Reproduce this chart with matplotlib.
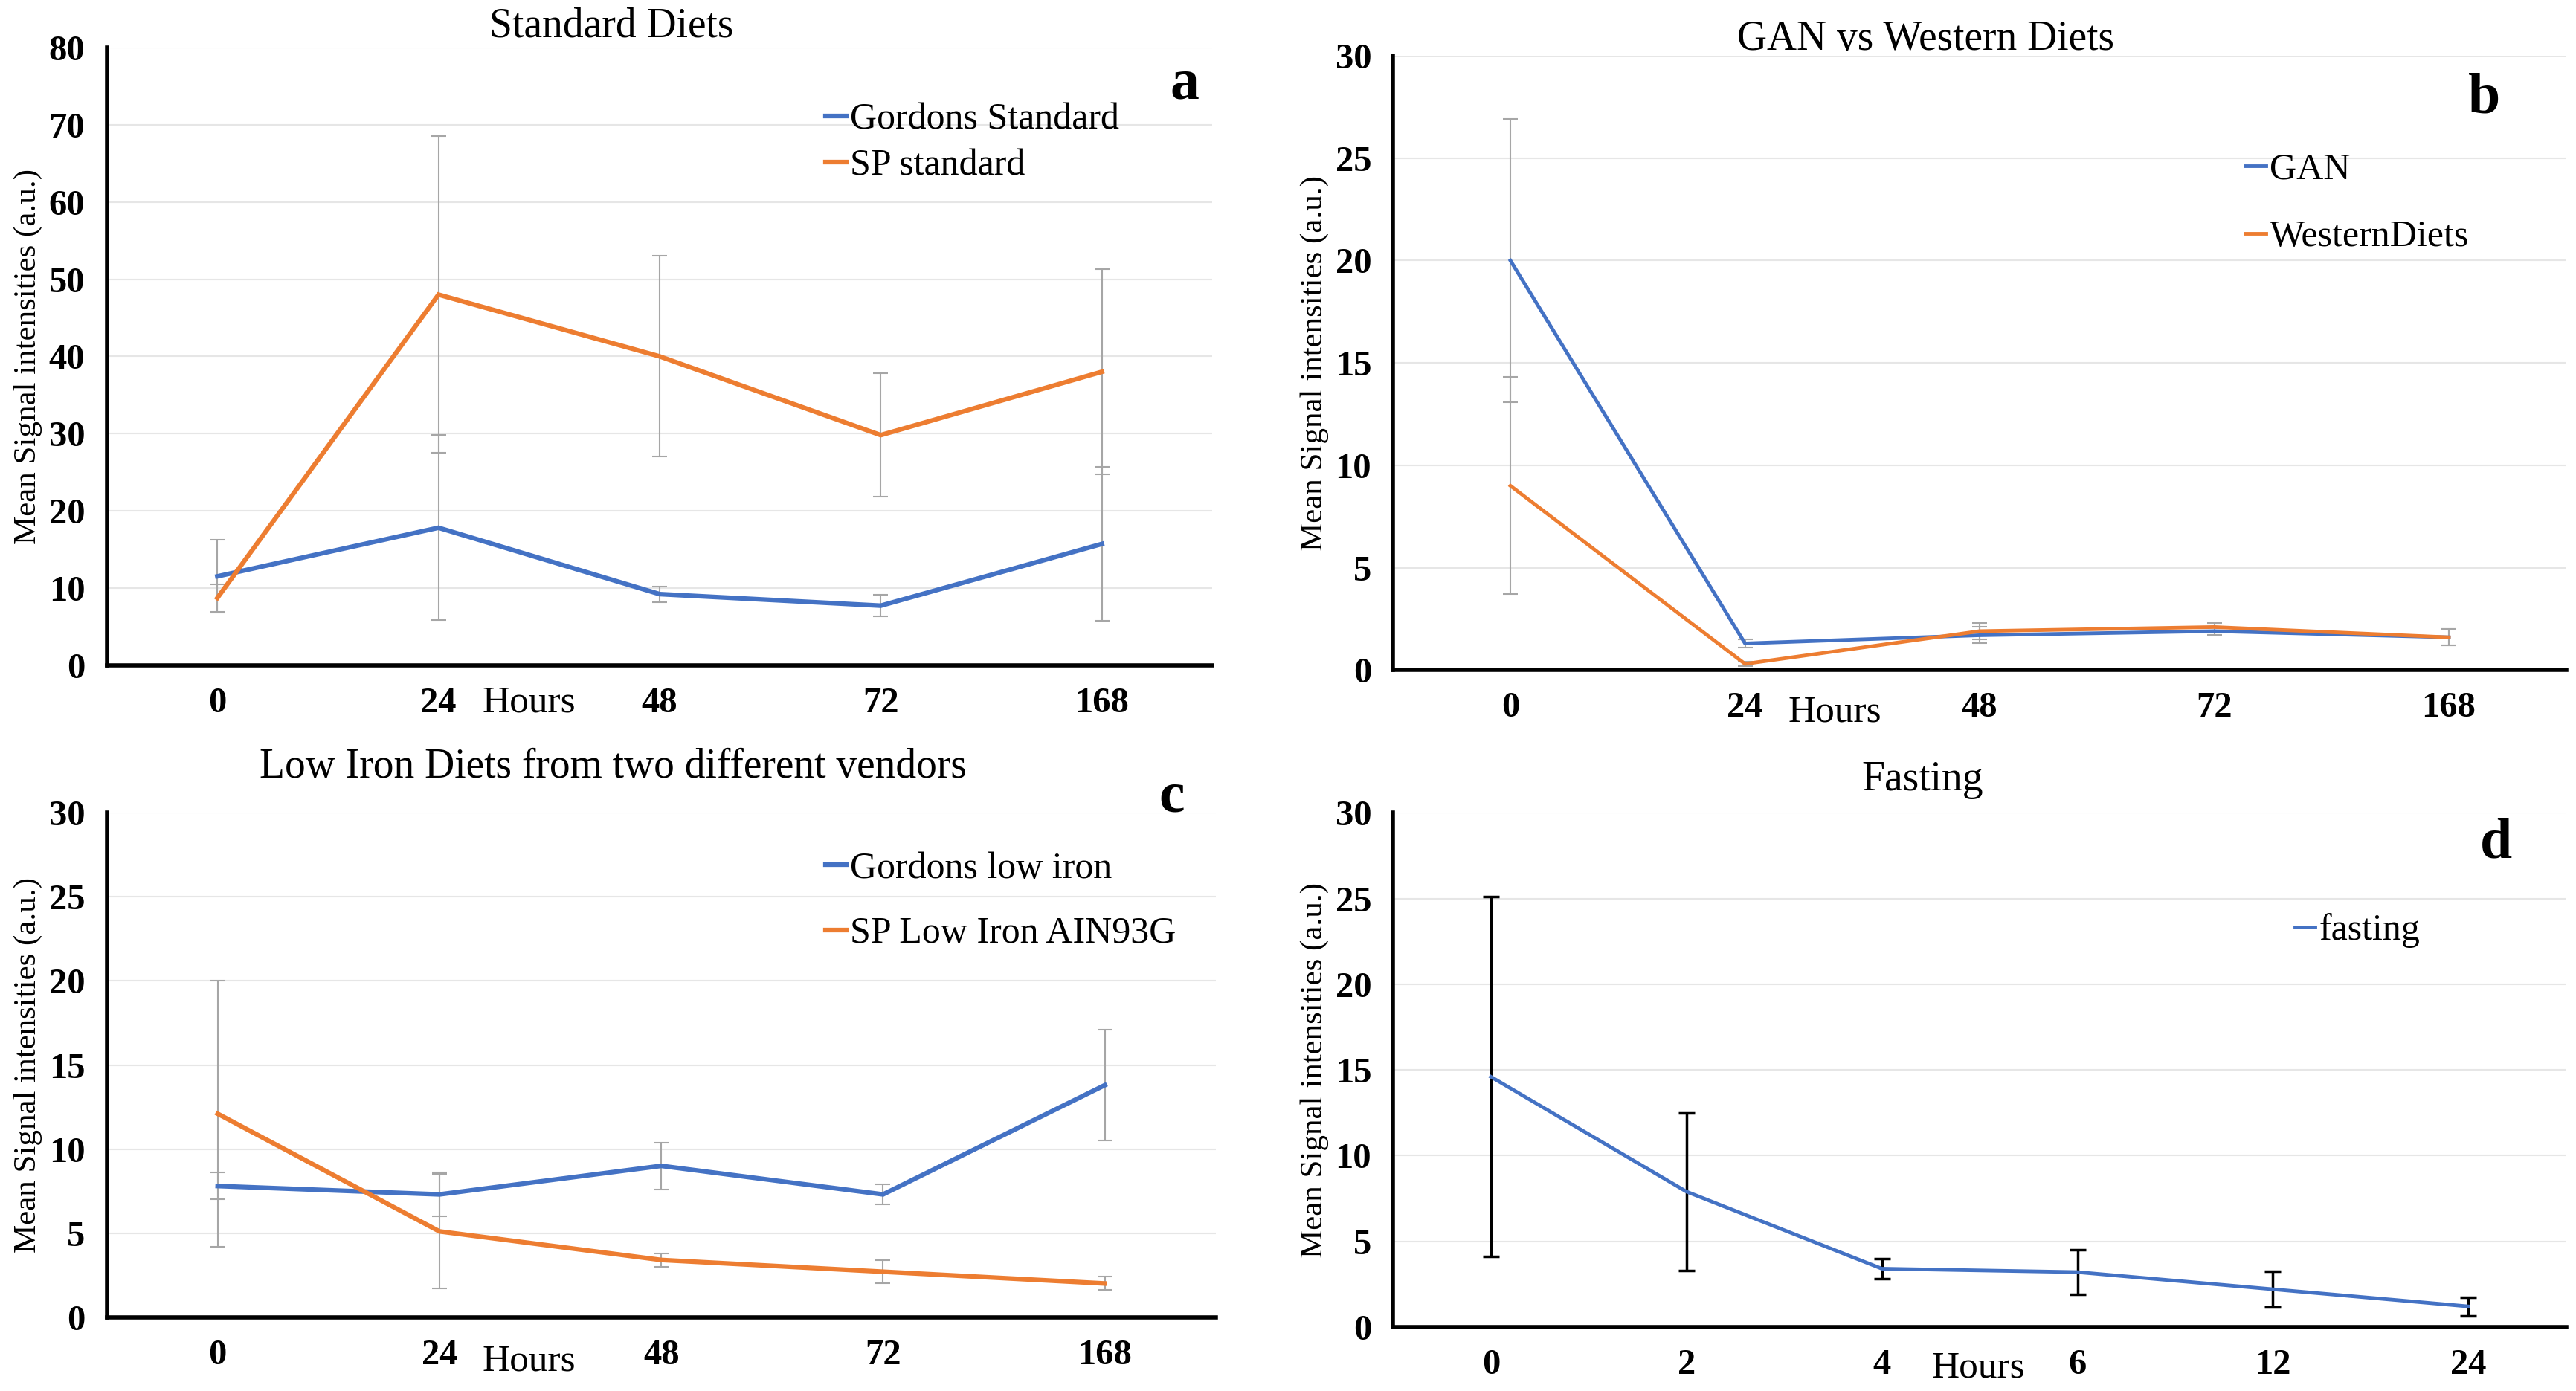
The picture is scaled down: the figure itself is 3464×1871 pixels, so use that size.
import matplotlib
matplotlib.use("Agg")
import matplotlib.pyplot as plt

# ---------------- data ----------------
hours_abc = ["0", "24", "48", "72", "168"]
hours_d = ["0", "2", "4", "6", "12", "24"]

gordons_std = [11.5, 17.8, 9.2, 7.7, 15.7]
gordons_std_err = [4.7, 12.0, 1.0, 1.4, 10.0]
sp_std = [8.7, 48.0, 40.0, 29.8, 38.0]
sp_std_err = [1.8, 20.5, 13.0, 8.0, 13.3]

gan = [20.0, 1.3, 1.7, 1.9, 1.6]
gan_err = [6.9, 0.2, 0.4, 0.2, 0.4]
western = [9.0, 0.3, 1.9, 2.1, 1.6]
western_err = [5.3, 0.1, 0.4, 0.2, 0.4]

gordons_low = [7.8, 7.3, 9.0, 7.3, 13.8]
gordons_low_err = [0.8, 1.3, 1.4, 0.6, 3.3]
sp_low = [12.1, 5.1, 3.4, 2.7, 2.0]
sp_low_err = [7.9, 3.4, 0.4, 0.7, 0.4]

fasting = [14.6, 7.9, 3.4, 3.2, 2.2, 1.2]
fasting_err = [10.5, 4.6, 0.6, 1.3, 1.05, 0.55]

BLUE = "#4472C4"
ORANGE = "#ED7D31"
FONT = "Liberation Serif"

plt.rcParams["font.family"] = [FONT, "DejaVu Serif"]

W, H = 3464, 1871
fig = plt.figure(figsize=(W / 100, H / 100), dpi=100)
OW, OH = 1568.0, 847.0


def axes_from(l, r, t, b):
    return fig.add_axes([l / OW, 1 - b / OH, (r - l) / OW, (b - t) / OH])


def style(ax, ymax, ystep, n):
    ax.set_xlim(-0.5, n - 0.5)
    ax.set_ylim(0, ymax)
    ax.set_yticks(range(0, ymax + 1, ystep))
    ax.grid(axis="y", color="#E6E6E6", linewidth=1.5, zorder=0)
    ax.set_axisbelow(True)
    for s in ["top", "right"]:
        ax.spines[s].set_visible(False)
    for s in ["left", "bottom"]:
        ax.spines[s].set_linewidth(4)
        ax.spines[s].set_color("black")
    ax.tick_params(length=0, pad=21, labelsize=35)
    for lab in ax.get_xticklabels() + ax.get_yticklabels():
        lab.set_fontweight("bold")
    ax.set_ylabel("Mean Signal intensities (a.u.)", fontsize=31, labelpad=6)


def series(ax, labels, y, err, color, lw, ecolor="#A6A6A6", elw=1.5, cap=7):
    x = list(range(len(labels)))
    ax.errorbar(x, y, yerr=err, fmt="none", ecolor=ecolor, elinewidth=elw,
                capsize=cap, capthick=elw, zorder=2)
    line, = ax.plot(x, y, color=color, linewidth=lw, zorder=3,
                    solid_joinstyle="miter")
    return line


def title(text, x, y):
    fig.text(x / OW, 1 - y / OH, text, fontsize=40, ha="center", va="center")


def hours(x, y):
    fig.text(x / OW, 1 - y / OH, "Hours", fontsize=37, ha="center", va="center")


# ---- panel a ----
axa = axes_from(65, 738, 29, 405)
la1 = series(axa, hours_abc, gordons_std, gordons_std_err, BLUE, 4.5)
la2 = series(axa, hours_abc, sp_std, sp_std_err, ORANGE, 4.5)
axa.set_xticks(range(len(hours_abc)))
axa.set_xticklabels(hours_abc)
style(axa, 80, 10, 5)
title("Standard Diets", 372, 16)
axa.legend([la1, la2], ["Gordons Standard", "SP standard"], loc="upper left",
           bbox_to_anchor=(0.62, 0.965), frameon=False, fontsize=36,
           handlelength=0.55, handletextpad=0.1, labelspacing=0.3)
axa.text(0.975, 0.94, "a", transform=axa.transAxes, fontsize=56,
         fontweight="bold", ha="center", va="center")
hours(322, 428)

# ---- panel b ----
axb = axes_from(848, 1562, 34, 408)
lb1 = series(axb, hours_abc, gan, gan_err, BLUE, 3.5)
lb2 = series(axb, hours_abc, western, western_err, ORANGE, 3.5)
axb.set_xticks(range(len(hours_abc)))
axb.set_xticklabels(hours_abc)
style(axb, 30, 5, 5)
title("GAN vs Western Diets", 1172, 24)
axb.legend([lb1, lb2], ["GAN", "WesternDiets"], loc="upper left",
           bbox_to_anchor=(0.698, 0.897), frameon=False, fontsize=36,
           handlelength=0.55, handletextpad=0.1, labelspacing=0.88)
axb.text(0.93, 0.93, "b", transform=axb.transAxes, fontsize=56,
         fontweight="bold", ha="center", va="center")
hours(1117, 434)

# ---- panel c ----
axc = axes_from(65, 740, 495, 802)
lc1 = series(axc, hours_abc, gordons_low, gordons_low_err, BLUE, 4.5)
lc2 = series(axc, hours_abc, sp_low, sp_low_err, ORANGE, 4.5)
axc.set_xticks(range(len(hours_abc)))
axc.set_xticklabels(hours_abc)
style(axc, 30, 5, 5)
title("Low Iron Diets from two different vendors", 373, 467)
axc.legend([lc1, lc2], ["Gordons low iron", "SP Low Iron AIN93G"],
           loc="upper left", bbox_to_anchor=(0.618, 0.99), frameon=False,
           fontsize=36, handlelength=0.55, handletextpad=0.1, labelspacing=0.82)
axc.text(0.96, 1.03, "c", transform=axc.transAxes, fontsize=56,
         fontweight="bold", ha="center", va="center")
hours(322, 829)

# ---- panel d ----
axd = axes_from(848, 1562, 495, 808)
ld1 = series(axd, hours_d, fasting, fasting_err, BLUE, 3.5,
             ecolor="black", elw=2.5, cap=8)
axd.set_xticks(range(len(hours_d)))
axd.set_xticklabels(hours_d)
style(axd, 30, 5, 6)
title("Fasting", 1170, 475)
axd.legend([ld1], ["fasting"], loc="upper left", bbox_to_anchor=(0.74, 0.87),
           frameon=False, fontsize=36, handlelength=0.55, handletextpad=0.1)
axd.text(0.94, 0.94, "d", transform=axd.transAxes, fontsize=56,
         fontweight="bold", ha="center", va="center")
hours(1204, 833)

fig.savefig("out.png", dpi=100, facecolor="white")
